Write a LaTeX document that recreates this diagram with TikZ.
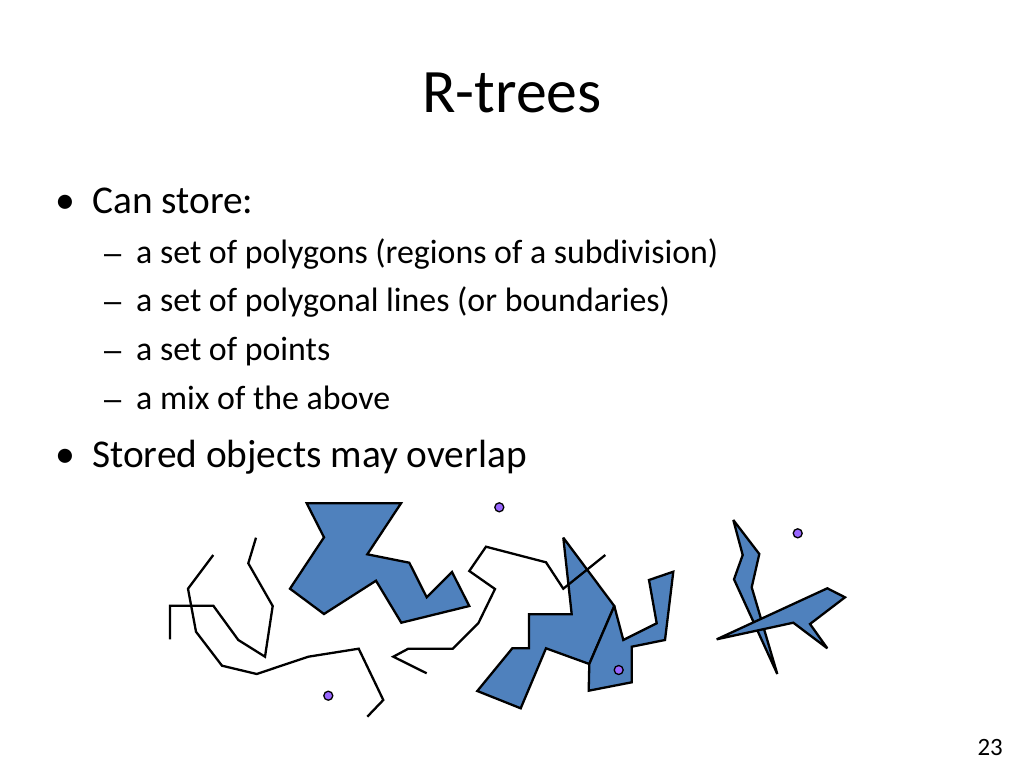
\documentclass[tikz,border=0pt]{standalone}
\usepackage{fontspec}
\setmainfont{Carlito}
\newfontfamily\dashfont{Liberation Sans}
\begin{document}
\begin{tikzpicture}[x=1bp,y=-1bp,
  txt/.style={inner sep=0pt,anchor=base west},
  poly/.style={draw=black,line width=2.3bp,fill=polyblue,line join=miter,miter limit=3},
  pline/.style={draw=black,line width=2.3bp,line join=miter,miter limit=3},
  dotpt/.style={circle,draw=black,line width=1.3bp,fill=dotpurple,minimum size=9bp,inner sep=0pt}]
\definecolor{polyblue}{HTML}{4F81BD}
\definecolor{dotpurple}{HTML}{9966FF}
\useasboundingbox[fill=white] (0,0) rectangle (1024,768);
% title
\node[inner sep=0pt,anchor=base] (title) at (512,112) {\fontsize{62}{70}\selectfont R-trees};
% bullets
\node[txt] (b1) at (55,213) {\fontsize{40}{46}\selectfont •};
\node[txt] (t1) at (92,213) {\fontsize{39.5}{46}\selectfont Can store:};
\node[txt] (d1) at (104,263) {\dashfont\fontsize{31}{40}\selectfont –};
\node[txt] (s1) at (136,263) {\fontsize{34}{40}\selectfont a set of polygons (regions of a subdivision)};
\node[txt] (d2) at (104,311) {\dashfont\fontsize{31}{40}\selectfont –};
\node[txt] (s2) at (136,311) {\fontsize{34}{40}\selectfont a set of polygonal lines (or boundaries)};
\node[txt] (d3) at (104,360) {\dashfont\fontsize{31}{40}\selectfont –};
\node[txt] (s3) at (136,360) {\fontsize{34}{40}\selectfont a set of points};
\node[txt] (d4) at (104,409) {\dashfont\fontsize{31}{40}\selectfont –};
\node[txt] (s4) at (136,409) {\fontsize{34}{40}\selectfont a mix of the above};
\node[txt] (b2) at (55,467) {\fontsize{40}{46}\selectfont •};
\node[txt] (t2) at (92,467) {\fontsize{39.5}{46}\selectfont Stored objects may overlap};
% page number
\node[inner sep=0pt,anchor=base east] (pg) at (1003,755) {\fontsize{25}{28}\selectfont 23};
% polygon 1
\path[poly] (306.7,503.3) -- (401,503.3) -- (367.3,554.3) -- (409.3,562.7) -- (426.7,597.3) -- (452,572) -- (469.3,606) -- (401.3,622.7) -- (376,580.7) -- (324,614) -- (290,588.7) -- (324,537.3) -- cycle;
% line A
\path[pline] (170,639.3) -- (170,605.7) -- (213.3,605.7) -- (238.3,640) -- (265,656.7) -- (272.7,606) -- (248.3,563.3) -- (256,537.7);
% line B
\path[pline] (213.3,555) -- (188,588.7) -- (196,631.7) -- (222,665.7) -- (256.7,674) -- (308.3,656.7) -- (358.7,648.7) -- (383.3,700) -- (367.3,716.7);
% polygon 2
\path[poly] (563.3,537.7) -- (614.3,606) -- (589.3,664) -- (546,648.3) -- (520.7,708.3) -- (477.3,691) -- (512.3,648.3) -- (529,648.3) -- (529,614.3) -- (571.7,614.3) -- cycle;
% polygon 3
\path[poly] (614.3,606) -- (623.3,640) -- (656.7,623.3) -- (649,580) -- (673.3,571.7) -- (665,640) -- (631.7,646.7) -- (631.7,682.3) -- (588.7,690.7) -- (589.3,664) -- cycle;
% line C
\path[pline] (426.7,673.3) -- (393.3,656.7) -- (408.3,648.7) -- (452.7,648.7) -- (478.3,623.3) -- (495,589) -- (469.3,571) -- (486,546.7) -- (546,562.3) -- (563.3,588.7) -- (605.3,555);
% polygon 4 (tall thin)
\path[poly] (733.3,520) -- (759.3,554) -- (751.7,587.3) -- (777.3,674) -- (734,579.3) -- (742.7,555) -- cycle;
% polygon 5
\path[poly] (716.7,639.3) -- (827.3,588.3) -- (845,597.3) -- (810,624) -- (827.3,648.3) -- (793.3,622.7) -- cycle;
% points
\node[dotpt] (p1) at (499.3,507.3) {};
\node[dotpt] (p2) at (328.3,695.7) {};
\node[dotpt] (p3) at (618.7,670) {};
\node[dotpt] (p4) at (797.7,533.3) {};
\end{tikzpicture}
\end{document}
